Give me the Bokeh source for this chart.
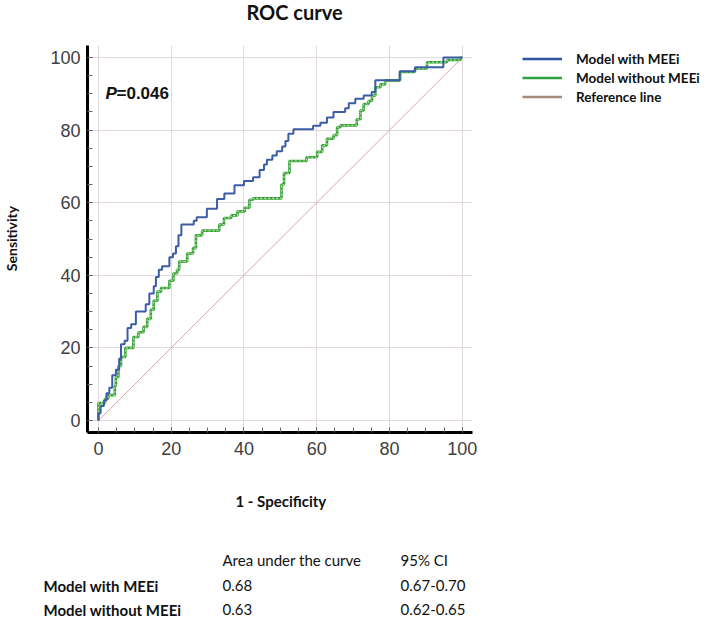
from bokeh.plotting import figure
from bokeh.layouts import column, row
from bokeh.models import Range1d, Label, Legend, LegendItem, SingleIntervalTicker
from bokeh.embed import file_html
from bokeh.resources import INLINE

# ---- data ----
blue_fpr = [0, 0, 0.6, 1.5, 2.2, 3.0, 3.8, 4.8, 5.7, 6.2, 7.2, 8.0, 9.0, 10.3, 13.0, 14.0, 15.2, 15.8, 16.6, 17.5,
            19.5, 20.5, 21.3, 22.0, 22.8, 26.2, 27.0, 29.8, 32.6, 34.6, 37.4, 40.0, 42.5, 44.3, 45.5, 46.3, 47.8, 49.0,
            50.5, 51.4, 52.2, 53.6, 59.0, 61.0, 62.8, 64.6, 67.8, 68.8, 70.6, 72.9, 75.1, 76.1, 82.8, 87.0, 94.8, 100]
blue_tpr = [0, 2, 4, 5.5, 7.5, 9, 12.5, 14, 17, 21, 22, 25.5, 26.5, 30, 32, 35, 37, 39.5, 41.5, 42.5,
            45, 46, 48, 51, 54, 55, 56, 58.3, 61, 62.5, 64.8, 66, 67, 69, 70.5, 71.8, 73, 74.2,
            75.5, 77, 79, 80.2, 81.2, 82, 83.5, 85, 86, 87.4, 88.6, 89.5, 90.5, 93.7, 96.2, 97.3, 100, 100]

green_fpr = [0, 0, 1.8, 2.7, 4.5, 4.8, 5.5, 6.2, 7.4, 9.6, 11.0, 12.4, 13.4, 14.4, 15.2, 16.2, 17.2, 19.5, 20.6, 21.6,
             22.2, 24.4, 26.0, 26.8, 28.5, 33.2, 34.5, 36.5, 38.2, 40.2, 41.5, 42.5, 50.3, 51.0, 52.5, 57.2, 60.1, 61.5,
             62.8, 64.6, 65.6, 66.5, 71.0, 72.0, 72.9, 74.2, 75.2, 76.1, 77.5, 78.8, 82.9, 87.0, 90.3, 95.8, 99.5, 100]
green_tpr = [0, 4.8, 6, 7, 9.5, 12, 15, 17.5, 20, 23, 24.3, 25.8, 28, 30.5, 33, 35.5, 36.5, 38.5, 40.5, 41.5,
             43.8, 46, 47.5, 51, 52.3, 54, 55.8, 56.5, 57.6, 58.6, 60.8, 61.2, 65, 68.2, 71.5, 72.5, 74, 75.8,
             77.6, 78.6, 80.8, 81.3, 83, 85.4, 87.2, 88, 89.5, 91.8, 92.6, 93.7, 96, 97, 98.7, 99.3, 100, 100]

ref_x = [0, 100]
ref_y = [0, 100]

series_names = ["Model with MEEi", "Model without MEEi", "Reference line"]
table_header = ["Area under the curve", "95% CI"]
table_models = ["Model with MEEi", "Model without MEEi"]
table_auc = ["0.68", "0.63"]
table_ci = ["0.67-0.70", "0.62-0.65"]
p_value_text = "=0.046"

# ---- layout geometry (canvas px, measured as in the reference picture) ----
TOTAL_W, TOTAL_H = 709, 620
FRAME_L, FRAME_T = 87, 45
FW, FH = 385, 387
TOP_H = FRAME_T
LEFT_W = 40
P_BL, P_BR, P_BB = FRAME_L - LEFT_W, 10, 35
P_W = P_BL + FW + P_BR
MID_H = FH + P_BB
RIGHT_W = TOTAL_W - LEFT_W - P_W
BOT_H = TOTAL_H - TOP_H - MID_H

X0, X1 = -3.0, 102.8
Y0, Y1 = -3.3, 103.3


def dx(px):  # canvas pixel -> data x of main plot
    return X0 + (px - FRAME_L) / FW * (X1 - X0)


def dy(py):  # canvas pixel -> data y of main plot
    return Y1 - (py - FRAME_T) / FH * (Y1 - Y0)


def text_fig(w, h, bottom=0):
    f = figure(width=w, height=h, output_backend="svg", toolbar_location=None,
               x_range=Range1d(0, w), y_range=Range1d(h - bottom, 0),
               x_axis_type=None, y_axis_type=None, min_border=0, min_border_bottom=bottom)
    f.grid.visible = False
    f.outline_line_color = None
    f.background_fill_color = "white"
    f.border_fill_color = "white"
    return f


def put(f, origin, px, py, s, size="15px", style="bold", font="Lato", align="left", angle=0,
        color="#111111"):
    f.add_layout(Label(x=px - origin[0], y=py - origin[1], text=s, text_font=font, text_font_size=size,
                       text_font_style=style, text_align=align, text_baseline="middle",
                       angle=angle, text_color=color))


# ---- main plot ----
p = figure(width=P_W, height=MID_H, output_backend="svg", toolbar_location=None,
           x_range=Range1d(X0, X1), y_range=Range1d(Y0, Y1),
           min_border_left=P_BL, min_border_right=P_BR, min_border_top=0, min_border_bottom=P_BB)
p.outline_line_color = None
p.background_fill_color = "white"
p.border_fill_color = "white"

for ax in (p.xaxis[0], p.yaxis[0]):
    ax.ticker = SingleIntervalTicker(interval=20, num_minor_ticks=4)
    ax.axis_line_color = "black"
    ax.axis_line_width = 3
    ax.major_tick_in = 5
    ax.major_tick_out = 0
    ax.minor_tick_in = 5
    ax.minor_tick_out = 0
    ax.major_tick_line_color = "#666666"
    ax.minor_tick_line_color = "#666666"
    ax.major_label_text_font = "Liberation Sans"
    ax.major_label_text_font_size = "18px"
    ax.major_label_text_color = "#404040"
p.xaxis.major_label_standoff = 9
p.yaxis.major_label_standoff = 7

p.xgrid.ticker = SingleIntervalTicker(interval=20)
p.ygrid.ticker = SingleIntervalTicker(interval=20)
p.grid.grid_line_color = "#e2d9de"
p.grid.grid_line_width = 1

p.line(ref_x, ref_y, line_color="#d8a9a9", line_width=1)
p.step(green_fpr, green_tpr, mode="after", line_color="#38a23a", line_width=2.6)
p.step(green_fpr, green_tpr, mode="after", line_color="#b8e4a0", line_width=1.1, line_dash="2 2")
p.step(blue_fpr, blue_tpr, mode="after", line_color="#3b5ca6", line_width=2)

p.add_layout(Label(x=dx(105), y=dy(93), text="P", text_font="Liberation Sans", text_font_size="17px",
                   text_font_style="bold italic", text_baseline="middle", text_color="#111111"))
p.add_layout(Label(x=dx(116), y=dy(93), text=p_value_text, text_font="Liberation Sans",
                   text_font_size="17px", text_font_style="bold", text_baseline="middle",
                   text_color="#111111"))

# ---- title strip ----
top = text_fig(TOTAL_W, TOP_H)
put(top, (0, 0), 294, 11, "ROC curve", size="20px", align="center")

# ---- left strip (y-axis title) ----
left = text_fig(LEFT_W, MID_H, bottom=P_BB)
put(left, (0, FRAME_T), 11, 238, "Sensitivity", size="14px", angle=1.5707963, align="center")

# ---- right strip (legend) ----
right = text_fig(RIGHT_W, MID_H, bottom=P_BB)
right_x0 = LEFT_W + P_W
nan = float("nan")
r1 = right.line([nan], [nan], line_color="#2e54a1", line_width=2.5)
r2 = right.line([nan], [nan], line_color="#2ea043", line_width=2.5)
r3 = right.line([nan], [nan], line_color="#a68a7f", line_width=2.5)
row_h = 19
leg_top = 58 - row_h / 2
leg_bottom = leg_top + 3 * row_h
legend = Legend(items=[LegendItem(label=series_names[0], renderers=[r1]),
                       LegendItem(label=series_names[1], renderers=[r2]),
                       LegendItem(label=series_names[2], renderers=[r3])],
                location=(522 - right_x0, int(round(FH - (leg_bottom - FRAME_T)))),
                orientation="vertical")
legend.padding = 0
legend.margin = 0
legend.spacing = 0
legend.border_line_alpha = 0
legend.background_fill_alpha = 0
legend.glyph_width = 40
legend.glyph_height = row_h
legend.label_height = row_h
legend.label_standoff = 14
legend.label_text_font = "Lato"
legend.label_text_font_style = "bold"
legend.label_text_font_size = "13.5px"
legend.label_text_color = "#111111"
legend.label_text_baseline = "middle"
right.add_layout(legend)

# ---- bottom strip (x-axis title + table) ----
bot = text_fig(TOTAL_W, BOT_H)
bot_o = (0, TOP_H + MID_H)
put(bot, bot_o, 235, 500, "1 - Specificity")
put(bot, bot_o, 222, 559, table_header[0], style="normal")
put(bot, bot_o, 400, 559, table_header[1], style="normal")
row_y = [585, 609]
for i in range(2):
    put(bot, bot_o, 43, row_y[i], table_models[i])
    put(bot, bot_o, 222, row_y[i], table_auc[i], style="normal")
    put(bot, bot_o, 400, row_y[i], table_ci[i], style="normal")

layout = column(top, row(left, p, right), bot)
open("out.html", "w").write(file_html(layout, INLINE))
